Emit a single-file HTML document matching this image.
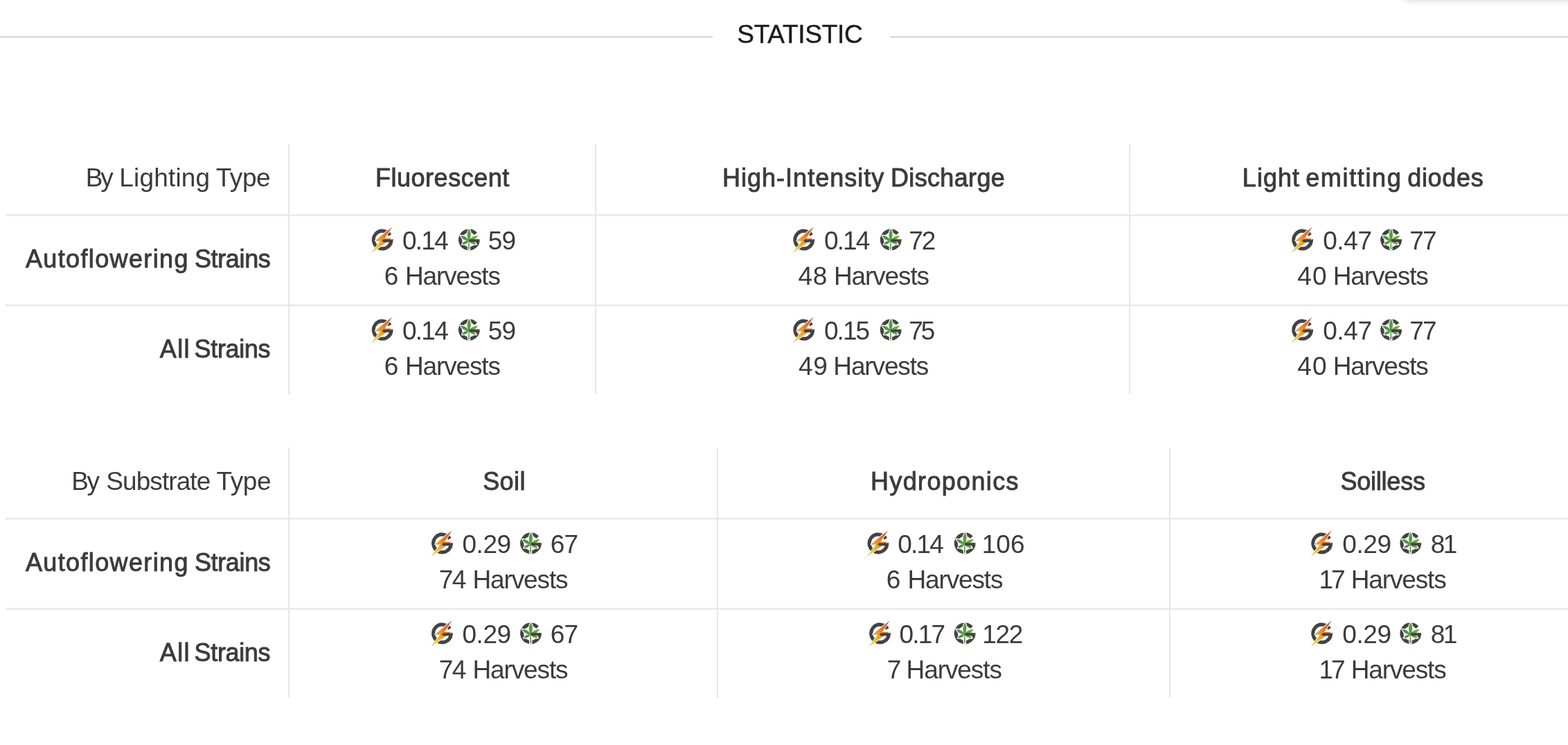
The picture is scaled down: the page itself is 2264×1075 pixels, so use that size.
<!DOCTYPE html>
<html lang="en"><head><meta charset="utf-8"><title>Statistic</title>
<style>
html,body{margin:0;padding:0;background:#fff;}
body{width:2264px;height:1075px;overflow:hidden;position:relative;font-family:"Liberation Sans",sans-serif;color:#3b3b3b;}
.x{position:absolute;white-space:nowrap;line-height:1;font-size:37px;}
.m{font-size:36px;-webkit-text-stroke:0.9px #3b3b3b;}
.t{font-size:37px;color:#1c1c1c;-webkit-text-stroke:0.45px #1c1c1c;}
.hl{position:absolute;height:3px;background:linear-gradient(#e5e5e5,#e5e5e5) 0 1px/100% 1px no-repeat,linear-gradient(rgba(229,229,229,.55),rgba(229,229,229,.55));}
.vl{position:absolute;width:2px;background:#e5e5e5;}
.tl{position:absolute;height:3px;top:52px;background:linear-gradient(#d6d9d9,#d6d9d9) 0 0/100% 2px no-repeat,linear-gradient(rgba(214,217,217,.45),rgba(214,217,217,.45));}
.icons{position:absolute;left:0;top:0;}
.sh{position:absolute;left:2027px;top:-40px;width:300px;height:36px;border-radius:6px;box-shadow:0 2px 12px rgba(0,0,0,.28);}
</style></head>
<body>
<svg width="0" height="0" style="position:absolute">
<defs>
<linearGradient id="gb" gradientUnits="userSpaceOnUse" x1="-14" y1="14" x2="14" y2="-12">
<stop offset="0" stop-color="#f9e21c"/><stop offset="0.45" stop-color="#f09a28"/><stop offset="1" stop-color="#e4492a"/>
</linearGradient>
<linearGradient id="gl" gradientUnits="userSpaceOnUse" x1="-13" y1="0" x2="13" y2="0">
<stop offset="0" stop-color="#3f8c42"/><stop offset="0.5" stop-color="#5b9c46"/><stop offset="1" stop-color="#7ab242"/>
</linearGradient>
<g id="bolt">
<path d="M12.84 -0.6 A12.85 12.85 0 1 1 11.0 -6.65" fill="none" stroke="#434343" stroke-width="5.1"/>
<path id="bp" d="M13.6 -18.0 L-10.3 1.4 L-2.5 1.8 L-15.2 18.1 L12.8 -1.8 L3.0 -2.1Z" fill="#fff" stroke="#fff" stroke-width="2.1" stroke-linejoin="round"/>
<path d="M13.6 -18.0 L-10.3 1.4 L-2.5 1.8 L-15.2 18.1 L12.8 -1.8 L3.0 -2.1Z" fill="url(#gb)" stroke="#6b3d12" stroke-opacity=".55" stroke-width=".3"/>
<rect x="0" y="-0.6" width="13.5" height="4.1" rx="2" fill="#434343"/>
</g>
<g id="leaf">
<path d="M12.84 -0.6 A12.85 12.85 0 1 1 9.6 -8.55" fill="none" stroke="#434343" stroke-width="5.1"/>
<path d="M-0.35 2.50 C2.33 -2.01 4.06 -8.74 0.10 -15.80 C-4.20 -8.95 -2.80 -2.14 -0.35 2.50Z M-0.45 1.50 C-2.28 -2.22 -5.99 -6.11 -12.40 -5.90 C-9.73 -0.07 -4.60 1.52 -0.45 1.50Z M-0.45 1.50 C3.94 1.58 9.50 0.01 12.80 -5.90 C6.03 -6.19 1.79 -2.28 -0.45 1.50Z M-0.45 1.50 C-3.76 1.17 -7.89 2.10 -10.20 6.70 C-5.10 7.35 -2.02 4.43 -0.45 1.50Z M-0.45 1.50 C1.50 4.47 5.06 7.41 10.50 6.70 C7.61 2.04 3.08 1.13 -0.45 1.50Z M-0.95 1.6 L0.3 1.6 L0.7 13.9 L-1.35 13.9Z" fill="#fff" stroke="#fff" stroke-width="2.4" stroke-linejoin="round"/>
<path d="M-0.35 2.50 C2.33 -2.01 4.06 -8.74 0.10 -15.80 C-4.20 -8.95 -2.80 -2.14 -0.35 2.50Z M-0.45 1.50 C-2.28 -2.22 -5.99 -6.11 -12.40 -5.90 C-9.73 -0.07 -4.60 1.52 -0.45 1.50Z M-0.45 1.50 C3.94 1.58 9.50 0.01 12.80 -5.90 C6.03 -6.19 1.79 -2.28 -0.45 1.50Z M-0.45 1.50 C-3.76 1.17 -7.89 2.10 -10.20 6.70 C-5.10 7.35 -2.02 4.43 -0.45 1.50Z M-0.45 1.50 C1.50 4.47 5.06 7.41 10.50 6.70 C7.61 2.04 3.08 1.13 -0.45 1.50Z M-0.95 1.6 L0.3 1.6 L0.7 13.9 L-1.35 13.9Z" fill="url(#gl)"/>
<rect x="0" y="-0.6" width="13.5" height="3.9" rx="1.9" fill="#434343"/>
</g>
</defs></svg>
<div class="sh"></div>
<div class="tl" style="left:0;width:1029px"></div><div class="tl" style="left:1285px;width:979px"></div>
<div class="hl" style="left:8px;top:309px;width:2256px"></div>
<div class="hl" style="left:8px;top:439px;width:2256px"></div>
<div class="vl" style="left:416px;top:208px;height:361px"></div>
<div class="vl" style="left:859px;top:208px;height:361px"></div>
<div class="vl" style="left:1630px;top:208px;height:361px"></div>
<div class="hl" style="left:8px;top:747px;width:2256px"></div>
<div class="hl" style="left:8px;top:877px;width:2256px"></div>
<div class="vl" style="left:416px;top:646px;height:361px"></div>
<div class="vl" style="left:1035px;top:646px;height:361px"></div>
<div class="vl" style="left:1688px;top:646px;height:361px"></div>
<div id="title" class="x t" style="left:1064.25px;top:31px"><span id="title_0" style="letter-spacing:-0.272px">STATISTIC</span></div>
<div id="h1a" class="x" style="left:123.68px;top:238px"><span id="h1a_0" style="letter-spacing:-3.016px">By</span> <span id="h1a_1" style="letter-spacing:0.181px;margin-left:1.17px">Lighting</span> <span id="h1a_2" style="letter-spacing:-0.436px;margin-left:-1.88px">Type</span></div>
<div id="h1b" class="x m" style="left:541.88px;top:239px"><span id="h1b_0" style="letter-spacing:0.540px">Fluorescent</span></div>
<div id="h1c" class="x m" style="left:1042.88px;top:239px"><span id="h1c_0" style="letter-spacing:1.029px">High-Intensity</span> <span id="h1c_1" style="letter-spacing:0.350px;margin-left:-1.44px">Discharge</span></div>
<div id="h1d" class="x m" style="left:1793.87px;top:239px"><span id="h1d_0" style="letter-spacing:1.000px">Light</span> <span id="h1d_1" style="letter-spacing:1.644px;margin-left:-1.75px">emitting</span> <span id="h1d_2" style="letter-spacing:0.687px;margin-left:-2.28px">diodes</span></div>
<div id="r1a" class="x m" style="left:36.89px;top:356px"><span id="r1a_0" style="letter-spacing:1.374px">Autoflowering</span> <span id="r1a_1" style="letter-spacing:-0.358px;margin-left:-1.98px">Strains</span></div>
<div id="r1b" class="x m" style="left:230.84px;top:486px"><span id="r1b_0" style="letter-spacing:1.301px">All</span> <span id="r1b_1" style="letter-spacing:-0.350px;margin-left:-4.18px">Strains</span></div>
<div id="h2a" class="x" style="left:103.33px;top:676px"><span id="h2a_0" style="letter-spacing:-2.608px">By</span> <span id="h2a_1" style="letter-spacing:-0.915px;margin-left:1.64px">Substrate</span> <span id="h2a_2" style="letter-spacing:-0.431px;margin-left:-1.02px">Type</span></div>
<div id="h2b" class="x m" style="left:697.17px;top:677px"><span id="h2b_0" style="letter-spacing:0.415px">Soil</span></div>
<div id="h2c" class="x m" style="left:1257.05px;top:677px"><span id="h2c_0" style="letter-spacing:1.337px">Hydroponics</span></div>
<div id="h2d" class="x m" style="left:1935.45px;top:677px"><span id="h2d_0" style="letter-spacing:-0.220px">Soilless</span></div>
<div id="r2a" class="x m" style="left:36.89px;top:794px"><span id="r2a_0" style="letter-spacing:1.374px">Autoflowering</span> <span id="r2a_1" style="letter-spacing:-0.358px;margin-left:-1.98px">Strains</span></div>
<div id="r2b" class="x m" style="left:230.84px;top:924px"><span id="r2b_0" style="letter-spacing:1.301px">All</span> <span id="r2b_1" style="letter-spacing:-0.350px;margin-left:-4.18px">Strains</span></div>
<div id="a0v1" class="x" style="left:580.99px;top:329px"><span id="a0v1_0" style="letter-spacing:-1.738px">0.14</span></div>
<div id="a0v2" class="x" style="left:704.77px;top:329px"><span id="a0v2_0" style="letter-spacing:-0.774px">59</span></div>
<div id="a0h" class="x" style="left:554.78px;top:380px"><span id="a0h_0">6</span> <span id="a0h_1" style="letter-spacing:-1.141px;margin-left:-0.61px">Harvests</span></div>
<div id="a1v1" class="x" style="left:580.99px;top:459px"><span id="a1v1_0" style="letter-spacing:-1.738px">0.14</span></div>
<div id="a1v2" class="x" style="left:704.77px;top:459px"><span id="a1v2_0" style="letter-spacing:-0.774px">59</span></div>
<div id="a1h" class="x" style="left:554.78px;top:510px"><span id="a1h_0">6</span> <span id="a1h_1" style="letter-spacing:-1.141px;margin-left:-0.61px">Harvests</span></div>
<div id="b0v1" class="x" style="left:1189.90px;top:329px"><span id="b0v1_0" style="letter-spacing:-1.837px">0.14</span></div>
<div id="b0v2" class="x" style="left:1312.26px;top:329px"><span id="b0v2_0" style="letter-spacing:-2.024px">72</span></div>
<div id="b0h" class="x" style="left:1152.60px;top:380px"><span id="b0h_0" style="letter-spacing:0.516px">48</span> <span id="b0h_1" style="letter-spacing:-1.109px;margin-left:-1.18px">Harvests</span></div>
<div id="b1v1" class="x" style="left:1189.90px;top:459px"><span id="b1v1_0" style="letter-spacing:-1.928px">0.15</span></div>
<div id="b1v2" class="x" style="left:1312.26px;top:459px"><span id="b1v2_0" style="letter-spacing:-3.201px">75</span></div>
<div id="b1h" class="x" style="left:1152.88px;top:510px"><span id="b1h_0" style="letter-spacing:0.895px">49</span> <span id="b1h_1" style="letter-spacing:-1.147px;margin-left:-2.76px">Harvests</span></div>
<div id="c0v1" class="x" style="left:1910.15px;top:329px"><span id="c0v1_0" style="letter-spacing:-0.349px">0.47</span></div>
<div id="c0v2" class="x" style="left:2035.26px;top:329px"><span id="c0v2_0" style="letter-spacing:-1.839px">77</span></div>
<div id="c0h" class="x" style="left:1873.17px;top:380px"><span id="c0h_0" style="letter-spacing:1.192px">40</span> <span id="c0h_1" style="letter-spacing:-1.114px;margin-left:-2.33px">Harvests</span></div>
<div id="c1v1" class="x" style="left:1910.15px;top:459px"><span id="c1v1_0" style="letter-spacing:-0.349px">0.47</span></div>
<div id="c1v2" class="x" style="left:2035.26px;top:459px"><span id="c1v2_0" style="letter-spacing:-1.839px">77</span></div>
<div id="c1h" class="x" style="left:1873.17px;top:510px"><span id="c1h_0" style="letter-spacing:1.192px">40</span> <span id="c1h_1" style="letter-spacing:-1.114px;margin-left:-2.33px">Harvests</span></div>
<div id="d0v1" class="x" style="left:667.42px;top:767px"><span id="d0v1_0" style="letter-spacing:-0.423px">0.29</span></div>
<div id="d0v2" class="x" style="left:794.67px;top:767px"><span id="d0v2_0" style="letter-spacing:-0.808px">67</span></div>
<div id="d0h" class="x" style="left:633.75px;top:818px"><span id="d0h_0" style="letter-spacing:-1.455px">74</span> <span id="d0h_1" style="letter-spacing:-1.118px;margin-left:0.15px">Harvests</span></div>
<div id="d1v1" class="x" style="left:667.42px;top:897px"><span id="d1v1_0" style="letter-spacing:-0.423px">0.29</span></div>
<div id="d1v2" class="x" style="left:794.67px;top:897px"><span id="d1v2_0" style="letter-spacing:-0.808px">67</span></div>
<div id="d1h" class="x" style="left:633.75px;top:948px"><span id="d1h_0" style="letter-spacing:-1.455px">74</span> <span id="d1h_1" style="letter-spacing:-1.118px;margin-left:0.15px">Harvests</span></div>
<div id="e0v1" class="x" style="left:1296.26px;top:767px"><span id="e0v1_0" style="letter-spacing:-1.802px">0.14</span></div>
<div id="e0v2" class="x" style="left:1417.73px;top:767px"><span id="e0v2_0" style="letter-spacing:0.012px">106</span></div>
<div id="e0h" class="x" style="left:1279.76px;top:818px"><span id="e0h_0">6</span> <span id="e0h_1" style="letter-spacing:-1.145px;margin-left:-0.15px">Harvests</span></div>
<div id="e1v1" class="x" style="left:1298.42px;top:897px"><span id="e1v1_0" style="letter-spacing:-1.808px">0.17</span></div>
<div id="e1v2" class="x" style="left:1418.35px;top:897px"><span id="e1v2_0" style="letter-spacing:-1.391px">122</span></div>
<div id="e1h" class="x" style="left:1280.70px;top:948px"><span id="e1h_0">7</span> <span id="e1h_1" style="letter-spacing:-1.090px;margin-left:-2.99px">Harvests</span></div>
<div id="f0v1" class="x" style="left:1938.34px;top:767px"><span id="f0v1_0" style="letter-spacing:-0.430px">0.29</span></div>
<div id="f0v2" class="x" style="left:2065.77px;top:767px"><span id="f0v2_0" style="letter-spacing:-2.481px">81</span></div>
<div id="f0h" class="x" style="left:1904.61px;top:818px"><span id="f0h_0" style="letter-spacing:-3.245px">17</span> <span id="f0h_1" style="letter-spacing:-1.124px;margin-left:1.08px">Harvests</span></div>
<div id="f1v1" class="x" style="left:1938.34px;top:897px"><span id="f1v1_0" style="letter-spacing:-0.430px">0.29</span></div>
<div id="f1v2" class="x" style="left:2065.77px;top:897px"><span id="f1v2_0" style="letter-spacing:-2.481px">81</span></div>
<div id="f1h" class="x" style="left:1904.61px;top:948px"><span id="f1h_0" style="letter-spacing:-3.245px">17</span> <span id="f1h_1" style="letter-spacing:-1.124px;margin-left:1.08px">Harvests</span></div>
<svg class="icons" width="2264" height="1075" viewBox="0 0 2264 1075">
<use href="#bolt" transform="translate(552.20 346.00)"/>
<use href="#leaf" transform="translate(677.35 345.90)"/>
<use href="#bolt" transform="translate(552.20 476.00)"/>
<use href="#leaf" transform="translate(677.35 475.90)"/>
<use href="#bolt" transform="translate(1160.75 346.00)"/>
<use href="#leaf" transform="translate(1286.25 345.90)"/>
<use href="#bolt" transform="translate(1160.75 476.00)"/>
<use href="#leaf" transform="translate(1286.25 475.90)"/>
<use href="#bolt" transform="translate(1880.65 346.00)"/>
<use href="#leaf" transform="translate(2008.65 345.90)"/>
<use href="#bolt" transform="translate(1880.65 476.00)"/>
<use href="#leaf" transform="translate(2008.65 475.90)"/>
<use href="#bolt" transform="translate(638.50 784.00)"/>
<use href="#leaf" transform="translate(766.50 783.90)"/>
<use href="#bolt" transform="translate(638.50 914.00)"/>
<use href="#leaf" transform="translate(766.50 913.90)"/>
<use href="#bolt" transform="translate(1267.95 784.00)"/>
<use href="#leaf" transform="translate(1393.20 783.90)"/>
<use href="#bolt" transform="translate(1270.55 914.00)"/>
<use href="#leaf" transform="translate(1393.20 913.90)"/>
<use href="#bolt" transform="translate(1908.70 784.00)"/>
<use href="#leaf" transform="translate(2036.80 783.90)"/>
<use href="#bolt" transform="translate(1908.70 914.00)"/>
<use href="#leaf" transform="translate(2036.80 913.90)"/>
</svg>
</body></html>
